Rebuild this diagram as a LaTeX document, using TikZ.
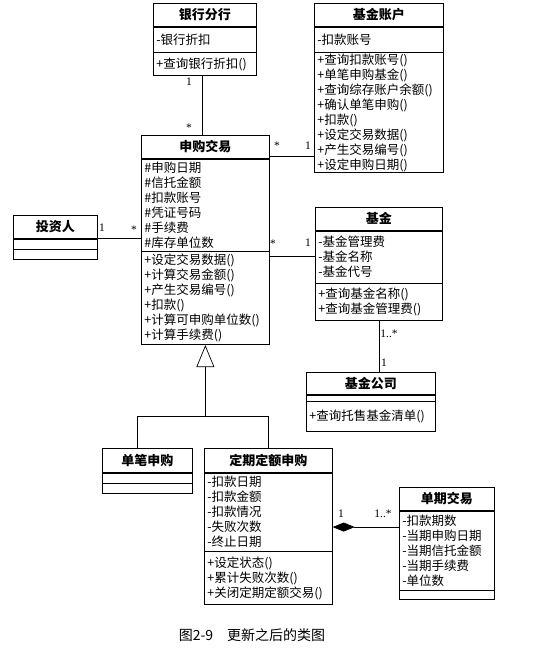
\documentclass[tikz,border=0pt]{standalone}
\usepackage{fontspec}
\setmainfont{Noto Sans CJK SC}
\newfontfamily\mulfont{Liberation Serif}
\usetikzlibrary{arrows.meta, positioning}

\begin{document}
\begin{tikzpicture}[
    x=1pt, y=-1pt,
    every node/.style={font=\fontsize{12.5}{15}\selectfont},
    cname/.style={draw, line width=0.7pt, anchor=north west, minimum height=23pt,
                  inner sep=1pt, font=\fontsize{13}{15}\selectfont\bfseries},
    csec/.style={draw, line width=0.7pt, inner xsep=3pt, inner ysep=1pt, align=left},
    assoc/.style={line width=0.7pt},
    mult/.style={inner sep=0pt, font=\mulfont\fontsize{11.5}{12}\selectfont},
    gen/.style={{Triangle[open, length=22pt, width=18pt]}-, line width=0.7pt},
    comp/.style={{Diamond[length=22pt, width=9pt]}-, line width=0.7pt}
  ]
    \useasboundingbox (0,0) rectangle (551,666);

    % classes
    \node[cname, minimum width=103pt] (yhfh) at (153,3) {银行分行};
    \node[csec, text width=97pt, minimum height=25pt, below=0pt of yhfh] (yhfh-a) {-银行折扣};
    \node[csec, text width=97pt, minimum height=23pt, below=0pt of yhfh-a] (yhfh-o) {+查询银行折扣()};

    \node[cname, minimum width=129pt] (jjzh) at (314,3) {基金账户};
    \node[csec, text width=123pt, minimum height=25pt, below=0pt of jjzh] (jjzh-a) {-扣款账号};
    \node[csec, text width=123pt, minimum height=120pt, below=0pt of jjzh-a] (jjzh-o)
      {+查询扣款账号()\\+单笔申购基金()\\+查询综存账户余额()\\+确认单笔申购()\\+扣款()\\+设定交易数据()\\+产生交易编号()\\+设定申购日期()};

    \node[cname, minimum width=128pt] (sgjy) at (141,135) {申购交易};
    \node[csec, text width=122pt, minimum height=92pt, below=0pt of sgjy] (sgjy-a)
      {\#申购日期\\\#信托金额\\\#扣款账号\\\#凭证号码\\\#手续费\\\#库存单位数};
    \node[csec, text width=122pt, minimum height=93pt, below=0pt of sgjy-a] (sgjy-o)
      {+设定交易数据()\\+计算交易金额()\\+产生交易编号()\\+扣款()\\+计算可申购单位数()\\+计算手续费()};

    \node[cname, minimum width=84pt] (tzr) at (13,215) {投资人};
    \node[csec, text width=78pt, minimum height=10pt, below=0pt of tzr] (tzr-a) {};
    \node[csec, text width=78pt, minimum height=10pt, below=0pt of tzr-a] (tzr-o) {};

    \node[cname, minimum width=127pt] (jj) at (315,207) {基金};
    \node[csec, text width=121pt, minimum height=52pt, below=0pt of jj] (jj-a)
      {-基金管理费\\-基金名称\\-基金代号};
    \node[csec, text width=121pt, minimum height=37pt, below=0pt of jj-a] (jj-o)
      {+查询基金名称()\\+查询基金管理费()};

    \node[cname, minimum width=129pt, minimum height=22pt] (jjgs) at (306,372) {基金公司};
    \node[csec, text width=123pt, minimum height=6pt, inner ysep=0pt, below=0pt of jjgs] (jjgs-a) {};
    \node[csec, text width=123pt, minimum height=30pt, below=0pt of jjgs-a] (jjgs-o) {+查询托售基金清单()};

    \node[cname, minimum width=90pt, minimum height=24pt] (dbsg) at (102,448) {单笔申购};
    \node[csec, text width=84pt, minimum height=10pt, below=0pt of dbsg] (dbsg-a) {};
    \node[csec, text width=84pt, minimum height=10pt, below=0pt of dbsg-a] (dbsg-o) {};

    \node[cname, minimum width=128pt, minimum height=24pt] (dqde) at (204,448) {定期定额申购};
    \node[csec, text width=122pt, minimum height=78pt, below=0pt of dqde] (dqde-a)
      {-扣款日期\\-扣款金额\\-扣款情况\\-失败次数\\-终止日期};
    \node[csec, text width=122pt, minimum height=53pt, below=0pt of dqde-a] (dqde-o)
      {+设定状态()\\+累计失败次数()\\+关闭定期定额交易()};

    \node[cname, minimum width=95pt] (dqjy) at (399,487) {单期交易};
    \node[csec, text width=89pt, minimum height=79pt, below=0pt of dqjy] (dqjy-a)
      {-扣款期数\\-当期申购日期\\-当期信托金额\\-当期手续费\\-单位数};
    \node[csec, text width=89pt, minimum height=9pt, below=0pt of dqjy-a] (dqjy-o) {};

    % associations
    \draw[assoc] ([xshift=-3pt]yhfh-o.south) -- ([xshift=-3pt]yhfh-o.south |- sgjy.north);
    \draw[assoc] ([yshift=2pt]sgjy.south east) -- ([yshift=2pt]sgjy.south east -| jjzh-o.west);
    \draw[assoc] (tzr.south east) -- (tzr.south east -| sgjy-a.west);
    \draw[assoc] ([yshift=-5pt]sgjy-o.north east) -- ([yshift=-5pt]sgjy-o.north east -| jj-a.west);
    \draw[assoc] (jj-o.south) -- (jj-o.south |- jjgs.north);

    % generalization
    \draw[gen] (sgjy-o.south) -- ++(0,71) coordinate (gj);
    \draw[assoc] (gj) -| ([xshift=-10pt]dbsg.north);
    \draw[assoc] (gj) -| (dqde.north);

    % composition
    \draw[comp] ([yshift=-15pt]dqde-a.east) -- ([yshift=-15pt]dqde-a.east -| dqjy-a.west);

    % multiplicities
    \node[mult] (m1) at (189,82) {1};
    \node[mult] (m2) at (189,128) {*};
    \node[mult] (m3) at (277,146) {*};
    \node[mult] (m4) at (308,146) {1};
    \node[mult] (m5) at (102,228) {1};
    \node[mult] (m6) at (134,230) {*};
    \node[mult] (m7) at (273,244) {*};
    \node[mult] (m8) at (308,243) {1};
    \node[mult] (m9) at (389,334) {1..*};
    \node[mult] (m10) at (384,363) {1};
    \node[mult] (m11) at (341,514) {1};
    \node[mult] (m12) at (383,514) {1..*};

    \node[font=\fontsize{14}{16}\selectfont] (cap) at (252,635) {图2-9\quad 更新之后的类图};
  \end{tikzpicture}
\end{document}
